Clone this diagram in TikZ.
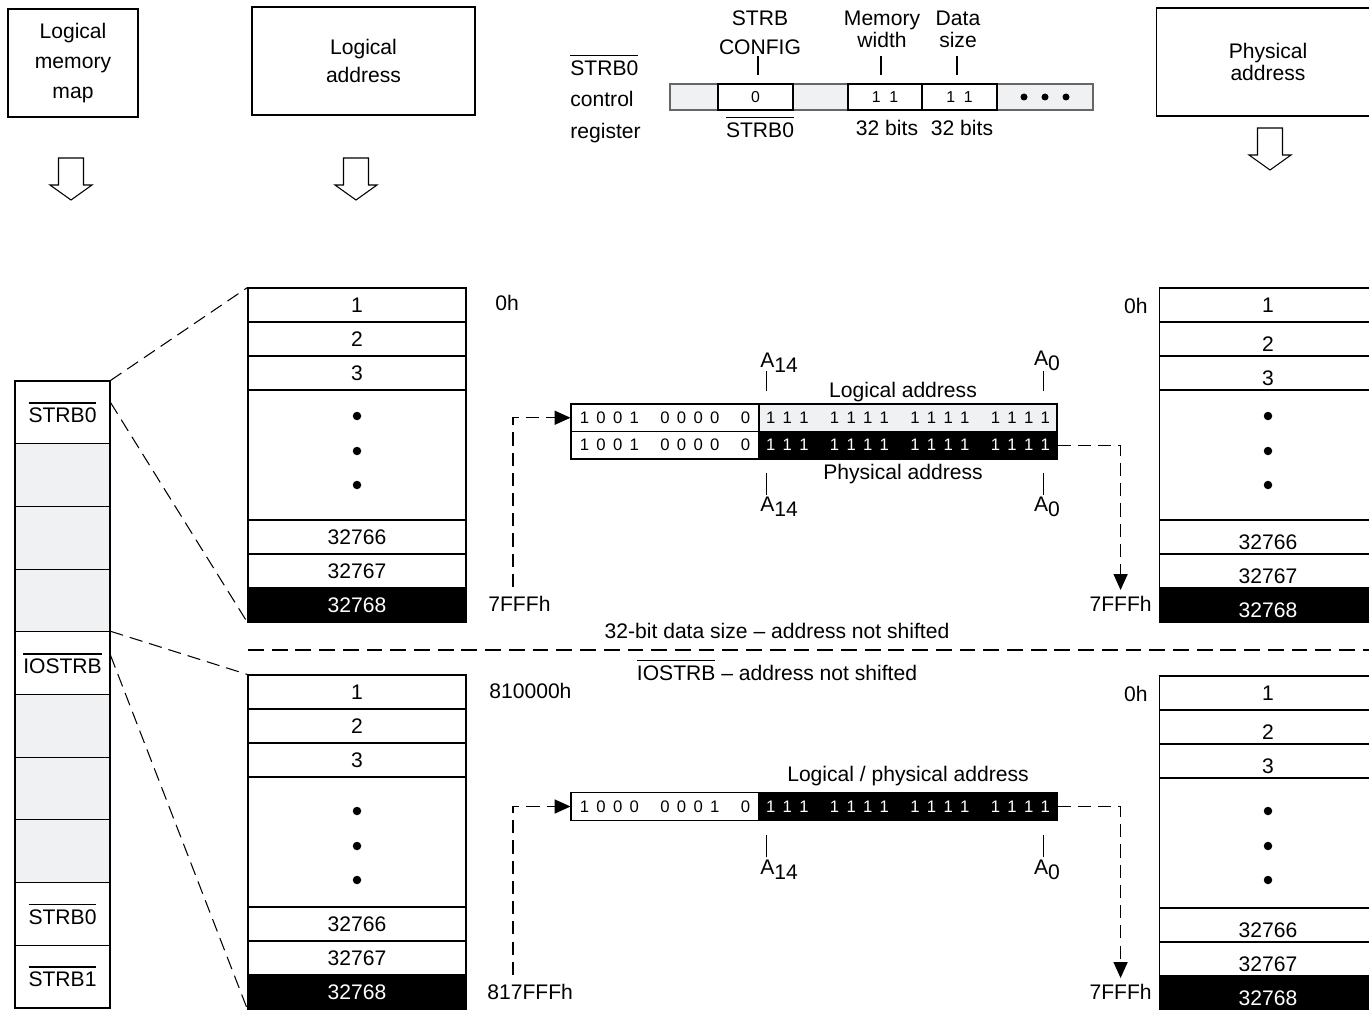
\documentclass[tikz,border=0pt]{standalone}
\usepackage{fontspec}
\setmainfont{Liberation Sans}
\usetikzlibrary{arrows.meta}
\definecolor{cellgray}{RGB}{240,241,243}
\newcommand{\ovl}[1]{\leavevmode\vbox{\hrule height 1pt\kern 2.2pt\hbox{#1}}}
\newcommand{\bitc}[1]{\makebox[9.45pt]{#1}}
\newcommand{\bitgap}{\hspace{8pt}}
\newcommand{\ones}{\bitc1\bitc1\bitc1\bitgap\bitc1\bitc1\bitc1\bitc1\bitgap
  \bitc1\bitc1\bitc1\bitc1\bitgap\bitc1\bitc1\bitc1\bitc1}
\newcommand{\hollowarrow}[2]{%
  \draw (#1-12.5,#2) -- (#1-12.5,#2+27) -- (#1-21,#2+27) -- (#1,#2+42)
    -- (#1+21,#2+27) -- (#1+12.5,#2+27) -- (#1+12.5,#2) -- cycle;}

\begin{document}
\begin{tikzpicture}[x=0.02cm,y=-0.02cm,line width=0.6pt,
    font=\fontsize{12}{14}\selectfont,
    topbox/.style={draw,minimum width=#1*0.02cm,minimum height=2.16cm,align=center},
    cell/.style={draw,fill=white,minimum width=4.36cm,minimum height=0.68cm,
      inner sep=0pt,text depth=0pt},
    blackcell/.style={fill=black,text=white},
    mapcell/.style={draw,fill=#1,minimum width=1.9cm,minimum height=1.254cm,inner sep=0pt},
    regcell/.style={draw,minimum width=#1*0.02cm,minimum height=0.52cm,inner sep=0pt,
      font=\fontsize{9}{10}\selectfont},
    bitcell/.style={draw,minimum width=#1*0.02cm,minimum height=0.55cm,inner sep=0pt,
      font=\fontsize{9.5}{10}\selectfont},
    bitdot/.style={circle,fill,inner sep=0pt,minimum size=0.17cm},
    link/.style={dash pattern=on 7.5pt off 4pt},
    divider/.style={dash pattern=on 9pt off 4.5pt},
    linkarrow/.style={-{Triangle[length=9pt,width=8pt]}}]
  \path[use as bounding box,clip] (0,0) rectangle (1369,1010);

  % headers
  \node[topbox=130,font=\fontsize{12}{17}\selectfont] (mapbox) at (73,63) {Logical\\memory\\map};
  \node[topbox=223,font=\fontsize{12}{16}\selectfont] (labox) at (363.5,61) {Logical\\address};
  \node[topbox=223,font=\fontsize{12}{12.5}\selectfont] (pabox) at (1268,62) {Physical\\address};
  \hollowarrow{71}{158}
  \hollowarrow{356}{158}
  \hollowarrow{1270}{128}

  % STRB0 control register
  \node[align=left,anchor=west,font=\fontsize{12}{18.2}\selectfont] (regname) at (564,99)
    {\ovl{STRB0}\\control\\register};
  \node[regcell=48,fill=cellgray,draw=black!60] (r1) at (694,97) {};
  \node[regcell=55,fill=cellgray,draw=black!60] (r3) at (820.5,97) {};
  \node[regcell=96,fill=cellgray,draw=black!60] (r6) at (1045,97) {};
  \node[regcell=75,fill=white,line width=0.9pt] (r2) at (755.5,97) {0};
  \node[regcell=74,fill=white,line width=0.9pt] (r4) at (885,97) {1\hspace{5pt}1};
  \node[regcell=75,fill=white,line width=0.9pt] (r5) at (959.5,97) {1\hspace{5pt}1};
  \foreach \i in {-1,0,1}
    \node[bitdot,minimum size=0.14cm] (rd\i) at (1045+\i*21,97) {};
  \node[font=\fontsize{12}{16.5}\selectfont,align=center] (cfg) at (760,33) {STRB\\CONFIG};
  \node[font=\fontsize{12}{12.5}\selectfont,align=center] (mwidth) at (882,29) {Memory\\width};
  \node[font=\fontsize{12}{12.5}\selectfont,align=center] (dsize) at (958,29) {Data\\size};
  \draw (r2.north) ++(2.5,-8) -- ++(0,-19);
  \draw (r4.north) ++(-4,-8) -- ++(0,-19);
  \draw (r5.north) ++(-2.5,-8) -- ++(0,-19);
  \node (cfgsel) at (760,127) {\ovl{STRB0}};
  \node (mwbits) at (887,128) {32 bits};
  \node (dsbits) at (962,128) {32 bits};

  % memory blocks: name/x/top/text height/dot shift
  \foreach \p/\x/\tp/\h/\ds in {lu/357/288/8.6pt/-4, pu/1268/288/14.3pt/-4,
                                ll/357/675/8.6pt/4, pl/1268/676/14.3pt/3}{
    \node[cell,text height=8.6pt] (\p1) at (\x,\tp+17) {1};
    \node[cell,text height=\h] (\p2) at (\x,\tp+51) {2};
    \node[cell,text height=\h] (\p3) at (\x,\tp+85) {3};
    \node[cell,minimum height=2.6cm] (\p4) at (\x,\tp+167) {};
    \foreach \d in {-35,0,34}
      \node[bitdot] (\p4\d) at (\x,\tp+167+\d+\ds) {};
    \node[cell,text height=\h] (\p5) at (\x,\tp+249) {32766};
    \node[cell,text height=\h] (\p6) at (\x,\tp+283) {32767};
    \node[cell,text height=\h,blackcell] (\p7) at (\x,\tp+317) {32768};
  }

  % logical memory map
  \foreach \i/\f/\txt in {1/white/\ovl{STRB0},2/cellgray/{},3/cellgray/{},4/cellgray/{},
      5/white/\ovl{IOSTRB},6/cellgray/{},7/cellgray/{},8/cellgray/{},
      9/white/\ovl{STRB0},10/white/\ovl{STRB1}}
    \node[mapcell=\f] (m\i) at (62.5,{381+(\i-0.5)*62.7}) {\txt};
  \draw[link] (m1.north east) -- (lu1.north west);
  \draw[link] (m1.north east) ++(0,22) -- (lu7.south west);
  \draw[link] (m5.north east) -- (ll1.north west);
  \draw[link] (m5.north east) ++(0,24) -- (ll7.south west);

  % upper address register
  \node[bitcell=188] (ulogL) at (665,417.75)
    {\bitc1\bitc0\bitc0\bitc1\bitgap\bitc0\bitc0\bitc0\bitc0\bitgap\bitc0};
  \node[bitcell=298,fill=cellgray] (ulogR) at (908,417.75) {\ones};
  \node[bitcell=188] (uphyL) at (665,445.25)
    {\bitc1\bitc0\bitc0\bitc1\bitgap\bitc0\bitc0\bitc0\bitc0\bitgap\bitc0};
  \node[bitcell=298,fill=black,text=white] (uphyR) at (908,445.25) {\ones};
  \node (ulogtxt) at (903,392) {Logical address};
  \node (uphytxt) at (903,474) {Physical address};
  \draw (ulogR.north west) ++(8,-12) -- ++(0,-20);
  \draw (ulogR.north east) ++(-14,-12) -- ++(0,-20);
  \draw (uphyR.south west) ++(8,13) -- ++(0,22);
  \draw (uphyR.south east) ++(-14,13) -- ++(0,22);
  \node (ua14) at (779,363) {A\raisebox{-.45ex}{14}};
  \node (ua0) at (1047,361) {A\raisebox{-.45ex}{0}};
  \node (ub14) at (779,507) {A\raisebox{-.45ex}{14}};
  \node (ub0) at (1047,507) {A\raisebox{-.45ex}{0}};
  \node[anchor=west] (u0h) at (489,303) {0h};
  \node[anchor=west] (u7fff) at (482,604) {7FFFh};
  \node[anchor=east] (p0hu) at (1154,306) {0h};
  \node[anchor=east] (p7fffu) at (1158,604) {7FFFh};
  \draw[link,linkarrow] (u7fff.north west) ++(31,-3) |- (ulogL.west);
  \draw[link,linkarrow] (uphyR.east) -| (p7fffu.north);

  % divider
  \coordinate (divL) at (248,650);
  \coordinate (divR) at (1369,650);
  \draw[divider] (divL) -- (divR);
  \node (divtop) at (777,631) {32-bit data size \textendash{} address not shifted};
  \node (divbot) at (777,670) {\ovl{IOSTRB} \textendash{} address not shifted};

  % lower address register
  \node[bitcell=188] (llogL) at (665,806.5)
    {\bitc1\bitc0\bitc0\bitc0\bitgap\bitc0\bitc0\bitc0\bitc1\bitgap\bitc0};
  \node[bitcell=298,fill=black,text=white] (llogR) at (908,806.5) {\ones};
  \node (lbothtxt) at (908,776) {Logical / physical address};
  \draw (llogR.south west) ++(8,14) -- ++(0,22);
  \draw (llogR.south east) ++(-14,14) -- ++(0,22);
  \node (lb14) at (779,870) {A\raisebox{-.45ex}{14}};
  \node (lb0) at (1047,870) {A\raisebox{-.45ex}{0}};
  \node[anchor=west] (l810) at (483,691) {810000h};
  \node[anchor=west] (l817) at (481,992) {817FFFh};
  \node[anchor=east] (p0hl) at (1154,694) {0h};
  \node[anchor=east] (p7fffl) at (1158,992) {7FFFh};
  \draw[link,linkarrow] (l817.north west) ++(32,-3) |- (llogL.west);
  \draw[link,linkarrow] (llogR.east) -| (p7fffl.north);
\end{tikzpicture}
\end{document}
